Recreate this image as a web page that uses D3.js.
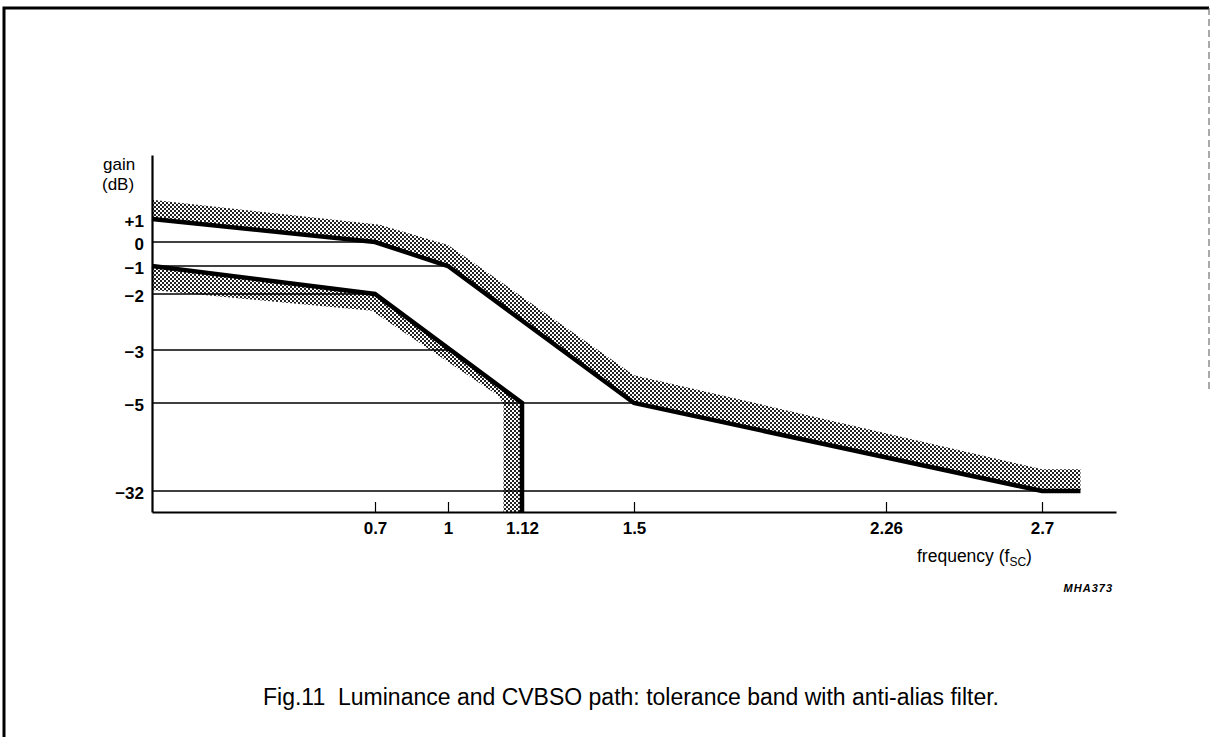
<!DOCTYPE html>
<meta charset="utf-8">
<script src="https://cdn.jsdelivr.net/npm/d3@7/dist/d3.min.js"></script>
<style>
  body { margin: 0; background: #fff; }
  text { font-family: 'Liberation Sans', Arial, sans-serif; }
</style>
<svg width="1211" height="737"></svg>
<script>
// tick values and labels
const xTicks = [0.7, 1, 1.12, 1.5, 2.26, 2.7]
const xTickLabels = ['0.7', '1', '1.12', '1.5', '2.26', '2.7']
const yTicks = [1, 0, -1, -2, -3, -5, -32]
const yTickLabels = ['+1', '0', '\u22121', '\u22122', '\u22123', '\u22125', '\u221232']

// axis bottom stands for "no signal", below -32 dB
const gainFloor = -40

// luminance path: nominal response and its tolerance edge
const upperFreq = [0, 0.7, 1, 1.5, 2.7, 2.83]
const upperGain = [1, 0, -1, -5, -32, -32]
const upperTolFreq = [0, 0.72, 1, 1.5, 2.7, 2.83]
const upperTolGain = [1.75, 0.75, -0.12, -3.95, -25.3, -25.3]

// anti-alias filter: nominal response and its tolerance edge
const lowerFreq = [0, 0.7, 1.12, 1.12]
const lowerGain = [-1, -2, -5, gainFloor]
const lowerTolFreq = [0, 0.69, 1.08, 1.09, 1.09]
const lowerTolGain = [-1.86, -2.3, -4.7, -5.3, gainFloor]

// horizontal reference lines, each running out to where it meets a curve
const gridGain = [0, -1, -2, -3, -5, -32]
const gridEnd = [0.7, 1, 0.7, 1, 1.5, 2.7]

const svg = d3.select('svg')

// both axes of the original are piecewise, not linear
const x = d3.scaleLinear()
  .domain([0, 0.7, 1, 1.12, 1.5, 2.26, 2.7, 2.95])
  .range([152, 375, 448, 522, 634, 886, 1042, 1116])
const y = d3.scaleLinear()
  .domain([3.5, 1, 0, -1, -2, -3, -5, -32, gainFloor])
  .range([155, 219, 242, 266, 294, 350, 403, 491, 512])

const zip = (fs, gs) => fs.map((f, i) => [f, gs[i]])
const line = d3.line().x(d => x(d[0])).y(d => y(d[1]))

// halftone fill used for the tolerance bands
const pat = svg.append('defs').append('pattern')
  .attr('id', 'dots')
  .attr('width', 4)
  .attr('height', 4)
  .attr('patternUnits', 'userSpaceOnUse')
pat.append('rect').attr('width', 4).attr('height', 4).attr('fill', '#fff')
pat.append('rect').attr('x', 0).attr('y', 0).attr('width', 2).attr('height', 2).attr('fill', '#222')
pat.append('rect').attr('x', 2).attr('y', 2).attr('width', 2).attr('height', 2).attr('fill', '#222')

// page frame
svg.append('path')
  .attr('d', 'M4,737V8H1209')
  .attr('fill', 'none')
  .attr('stroke', '#000')
  .attr('stroke-width', 3)
svg.append('line')
  .attr('x1', 1209).attr('x2', 1209)
  .attr('y1', 8).attr('y2', 390)
  .attr('stroke', '#555')
  .attr('stroke-width', 1)
  .attr('stroke-dasharray', '7,4')

// tolerance bands
const upperBand = zip(upperFreq, upperGain).concat(zip(upperTolFreq, upperTolGain).reverse())
const lowerBand = zip(lowerFreq, lowerGain).concat(zip(lowerTolFreq, lowerTolGain).reverse())
svg.append('path')
  .attr('d', line(upperBand) + 'Z')
  .attr('fill', 'url(#dots)')
svg.append('path')
  .attr('d', line(lowerBand) + 'Z')
  .attr('fill', 'url(#dots)')

// reference lines
svg.append('g')
  .selectAll('line')
  .data(gridGain)
  .join('line')
  .attr('x1', x(0))
  .attr('x2', (d, i) => x(gridEnd[i]))
  .attr('y1', d => y(d))
  .attr('y2', d => y(d))
  .attr('stroke', '#000')
  .attr('stroke-width', 1.5)

// nominal responses
svg.append('path')
  .attr('d', line(zip(upperFreq, upperGain)))
  .attr('fill', 'none')
  .attr('stroke', '#000')
  .attr('stroke-width', 4.5)
svg.append('path')
  .attr('d', line(zip(lowerFreq, lowerGain)))
  .attr('fill', 'none')
  .attr('stroke', '#000')
  .attr('stroke-width', 4.5)

// axes
const xAxis = svg.append('g')
  .attr('transform', 'translate(0,' + y(gainFloor) + ')')
  .call(d3.axisBottom(x)
    .tickValues(xTicks)
    .tickSizeInner(-10)
    .tickSizeOuter(0)
    .tickPadding(10)
    .tickFormat((d, i) => xTickLabels[i]))
const yAxis = svg.append('g')
  .attr('transform', 'translate(' + x(0) + ',0)')
  .call(d3.axisLeft(y)
    .tickValues(yTicks)
    .tickSize(0)
    .tickPadding(8)
    .tickFormat((d, i) => yTickLabels[i]))

xAxis.select('.domain').attr('stroke-width', 2.2)
yAxis.select('.domain').attr('stroke-width', 2.2)
xAxis.selectAll('.tick line').attr('stroke-width', 1.2)
for (const g of [xAxis, yAxis]) {
  g.attr('font-family', null).attr('font-size', null)
  g.selectAll('.tick text')
    .attr('font-size', 17)
    .attr('font-weight', 'bold')
    .attr('fill', '#000')
}
yAxis.selectAll('.tick text').attr('dy', '0.42em')

// axis titles
svg.append('text')
  .attr('x', 103).attr('y', 170)
  .attr('font-size', 17)
  .text('gain')
svg.append('text')
  .attr('x', 102).attr('y', 190)
  .attr('font-size', 17)
  .text('(dB)')

const xt = svg.append('text')
  .attr('x', 917).attr('y', 562)
  .attr('font-size', 17.5)
xt.append('tspan').text('frequency (f')
xt.append('tspan').attr('font-size', 12).attr('dy', 4).text('SC')
xt.append('tspan').attr('dy', -4).text(')')

svg.append('text')
  .attr('x', 1113).attr('y', 592)
  .attr('text-anchor', 'end')
  .attr('font-size', 11)
  .attr('font-weight', 'bold')
  .attr('font-style', 'italic')
  .attr('letter-spacing', 1)
  .text('MHA373')

// caption
svg.append('text')
  .attr('x', 631).attr('y', 705)
  .attr('text-anchor', 'middle')
  .attr('font-size', 23)
  .attr('xml:space', 'preserve')
  .text('Fig.11  Luminance and CVBSO path: tolerance band with anti-alias filter.')
</script>
